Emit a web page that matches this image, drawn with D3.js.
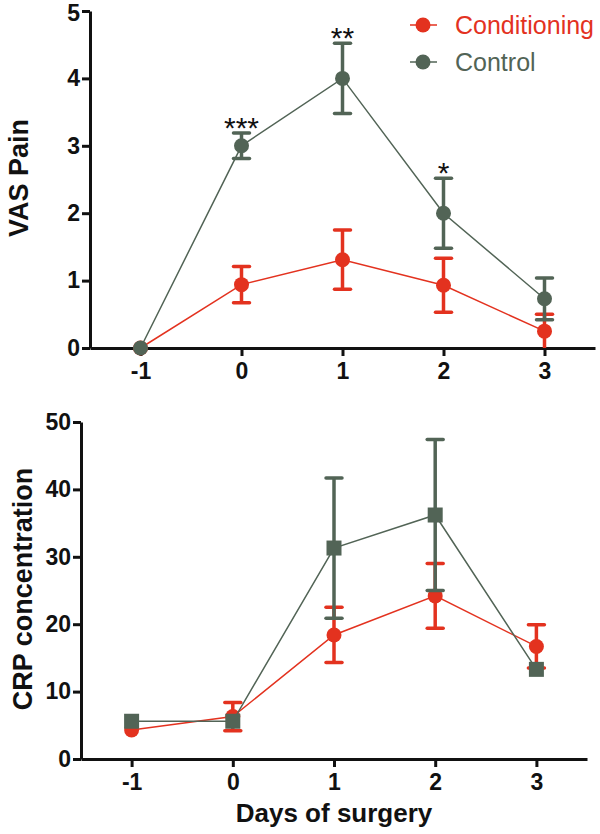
<!DOCTYPE html>
<html><head><meta charset="utf-8">
<script src="https://cdn.jsdelivr.net/npm/d3@7"></script>
<style>body{margin:0;background:#fff}svg{display:block}</style>
</head><body>
<svg id="c" width="600" height="834"></svg>
<script>
const days = [-1, 0, 1, 2, 3];
const xTicks = [-1, 0, 1, 2, 3];
const vasTicks = [0, 1, 2, 3, 4, 5];
const crpTicks = [0, 10, 20, 30, 40, 50];
const seriesNames = ["Conditioning", "Control"];
// VAS pain (mean, sem)
const vasCond = [0, 0.94, 1.31, 0.93, 0.25];
const vasCondErr = [0, 0.27, 0.44, 0.40, 0.25];
const vasCtrl = [0, 3.0, 4.0, 2.0, 0.73];
const vasCtrlErr = [0, 0.19, 0.52, 0.52, 0.31];
const stars = ["", "***", "**", "*", ""];
// CRP concentration (mean, sem)
const crpCond = [4.3, 6.3, 18.4, 24.2, 16.7];
const crpCondErr = [0, 2.1, 4.1, 4.8, 3.2];
const crpCtrl = [5.6, 5.6, 31.3, 36.2, 13.3];
const crpCtrlErr = [0, 0, 10.4, 11.2, 0];

const RED = "#e3321f", GRN = "#526456", AX = "#111";
const svg = d3.select("#c");
const FONT = "'Liberation Sans', Arial, Helvetica, sans-serif";
const fmt = d => String(d);

function panel(opt) {
  const x = d3.scaleLinear().domain([-1.5, 3.5]).range([opt.x0, opt.x1]);
  const y = d3.scaleLinear().domain(opt.ydom).range([opt.y0, opt.y1]);
  const g = svg.append("g");
  const ya = g.append("g").attr("transform", `translate(${opt.x0},0)`)
    .call(d3.axisLeft(y).tickValues(opt.yticks).tickFormat(fmt).tickSize(8).tickSizeOuter(0).tickPadding(2));
  const xa = g.append("g").attr("transform", `translate(0,${opt.y0})`)
    .call(d3.axisBottom(x).tickValues(xTicks).tickFormat(fmt).tickSize(8).tickSizeOuter(0).tickPadding(7));
  [ya, xa].forEach(a => {
    a.select(".domain").attr("stroke", AX).attr("stroke-width", 3);
    a.selectAll(".tick line").attr("stroke", AX).attr("stroke-width", 3);
    a.selectAll(".tick text").attr("fill", AX).attr("font-family", FONT)
      .attr("font-weight", "bold").attr("font-size", 23);
  });
  xa.selectAll(".tick text").attr("dy", "0.71em");
  // keep the top-most y label inside the picture
  ya.selectAll(".tick text").filter(d => y(d) < 14).attr("dy", "0.42em");
  g.append("text").attr("transform", `translate(${opt.titleX},${opt.titleY}) rotate(-90)`)
    .attr("text-anchor", "middle").attr("font-family", FONT).attr("font-weight", "bold")
    .attr("font-size", 27).attr("fill", AX).text(opt.title);

  const drawSeries = (vals, errs, color, shape) => {
    const sg = g.append("g");
    sg.append("path").datum(vals)
      .attr("d", d3.line().x((d, i) => x(days[i])).y(d => y(d)))
      .attr("fill", "none").attr("stroke", color).attr("stroke-width", 1.5);
    vals.forEach((v, i) => {
      const e = errs[i];
      if (e > 0) {
        const lo = Math.max(opt.ydom[0], v - e), hi = v + e;
        sg.append("line").attr("x1", x(days[i])).attr("x2", x(days[i]))
          .attr("y1", y(lo)).attr("y2", y(hi)).attr("stroke", color).attr("stroke-width", 3.5);
        [hi, lo].forEach(c => {
          if (c === opt.ydom[0]) return;
          sg.append("line").attr("x1", x(days[i]) - 8).attr("x2", x(days[i]) + 8)
            .attr("y1", y(c)).attr("y2", y(c)).attr("stroke", color)
            .attr("stroke-width", 3.5).attr("stroke-linecap", "round");
        });
      }
    });
    vals.forEach((v, i) => {
      if (shape === "circle") {
        sg.append("circle").attr("cx", x(days[i])).attr("cy", y(v)).attr("r", 7.5).attr("fill", color);
      } else {
        sg.append("rect").attr("x", x(days[i]) - 7.5).attr("y", y(v) - 7.5)
          .attr("width", 15).attr("height", 15).attr("fill", color);
      }
    });
  };
  drawSeries(opt.cond, opt.condErr, RED, "circle");
  drawSeries(opt.ctrl, opt.ctrlErr, GRN, opt.ctrlShape);
  return {x, y, g};
}

const topP = panel({x0: 90, x1: 595, y0: 348, y1: 11, ydom: [0, 5], yticks: vasTicks,
  cond: vasCond, condErr: vasCondErr, ctrl: vasCtrl, ctrlErr: vasCtrlErr, ctrlShape: "circle",
  title: "VAS Pain", titleX: 28, titleY: 178});

stars.forEach((s, i) => {
  if (!s) return;
  topP.g.append("text").attr("x", topP.x(days[i])).attr("y", topP.y(vasCtrl[i] + vasCtrlErr[i]) + 5)
    .attr("text-anchor", "middle").attr("font-family", FONT).attr("font-size", 30)
    .attr("fill", AX).text(s);
});

const legColors = [RED, GRN];
seriesNames.forEach((n, i) => {
  const ly = 25 + i * 37;
  const lg = svg.append("g");
  lg.append("line").attr("x1", 410).attr("x2", 437).attr("y1", ly).attr("y2", ly)
    .attr("stroke", legColors[i]).attr("stroke-width", 1.5);
  lg.append("circle").attr("cx", 423).attr("cy", ly).attr("r", 7.5).attr("fill", legColors[i]);
  lg.append("text").attr("x", 455).attr("y", ly + 9).attr("font-family", FONT)
    .attr("font-size", 25).attr("fill", legColors[i]).text(n);
});

const botP = panel({x0: 81, x1: 587, y0: 759, y1: 422, ydom: [0, 50], yticks: crpTicks,
  cond: crpCond, condErr: crpCondErr, ctrl: crpCtrl, ctrlErr: crpCtrlErr, ctrlShape: "rect",
  title: "CRP concentration", titleX: 32, titleY: 589});

svg.append("text").attr("x", 334).attr("y", 822).attr("text-anchor", "middle")
  .attr("font-family", FONT).attr("font-weight", "bold").attr("font-size", 26)
  .attr("fill", AX).text("Days of surgery");
</script>
</body></html>
